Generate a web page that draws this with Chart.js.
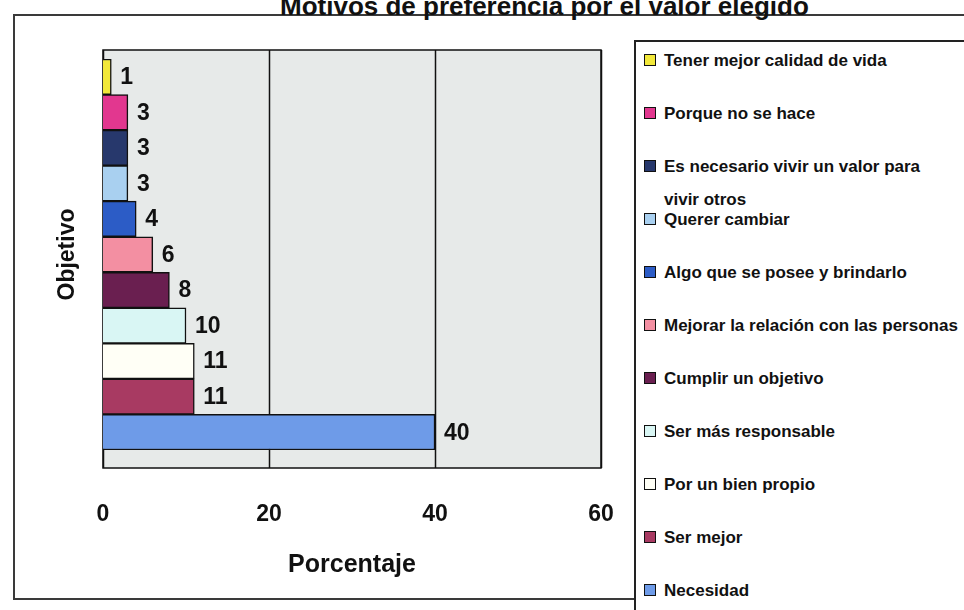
<!DOCTYPE html>
<html>
<head>
<meta charset="utf-8">
<script src="https://cdn.jsdelivr.net/npm/chart.js@4.4.1/dist/chart.umd.min.js"></script>
<style>
  html, body { margin: 0; padding: 0; background: #fff; }
  #wrap { position: relative; width: 964px; height: 610px; overflow: hidden; font-family: "Liberation Sans", Arial, sans-serif; }
  #frame { position: absolute; left: 13px; top: 14px; width: 980px; height: 582px; border: 2px solid #3a3a3a; }
  #title { position: absolute; left: 280px; top: -9px; font: bold 26px "Liberation Sans", Arial, sans-serif; color: #111; white-space: nowrap; }
  #chart { position: absolute; left: 0; top: 0; }
  #legend { position: absolute; left: 634px; top: 40px; width: 360px; height: 600px; border-left: 2px solid #222; border-top: 2px solid #222; background: #fff; }
  .item { position: absolute; left: 8px; width: 330px; }
  .sw { position: absolute; left: 0; top: 10px; width: 10px; height: 10px; border: 1.5px solid #111; }
  .tx { position: absolute; left: 20px; width: 320px; font: bold 17px "Liberation Sans", Arial, sans-serif; line-height: 33px; color: #111; white-space: pre-line; }
</style>
</head>
<body>
<div id="wrap">
  <div id="frame"></div>
  <div id="title">Motivos de preferencia por el valor elegido</div>
  <canvas id="chart" width="964" height="610"></canvas>
  <div id="legend"></div>
</div>
<script>
// ── Veri ──────────────────────────────────────────────
var categories = [
  'Tener mejor calidad de vida',
  'Porque no se hace',
  'Es necesario vivir un valor para\nvivir otros',
  'Querer cambiar',
  'Algo que se posee y brindarlo',
  'Mejorar la relación con las personas',
  'Cumplir un objetivo',
  'Ser más responsable',
  'Por un bien propio',
  'Ser mejor',
  'Necesidad'
];
var values = [1, 3, 3, 3, 4, 6, 8, 10, 11, 11, 40];
var barColors = ['#f2e83a', '#e2378f', '#27386c', '#a9d0f0', '#2c5cc6', '#f38fa2',
                 '#6a1f50', '#d9f6f4', '#fffff6', '#a83a62', '#6e9be8'];
var xTicks = [0, 20, 40, 60];

// ── Lejant (HTML) ─────────────────────────────────────
var leg = document.getElementById('legend');
categories.forEach(function(name, i) {
  var it = document.createElement('div');
  it.className = 'item';
  it.style.top = (58 + i * 53 - 40 - 16.5) + 'px';
  it.innerHTML = '<div class="sw" style="background:' + barColors[i] + '"></div><div class="tx"></div>';
  it.querySelector('.tx').textContent = name;
  leg.appendChild(it);
});

// ── Çizim alanı arka planı + çerçeve + değer etiketleri ─
var plotFrame = {
  id: 'plotFrame',
  beforeDatasetsDraw: function(c) {
    var a = c.chartArea, ctx = c.ctx, x = c.scales.x;
    var top = a.top - 9, bot = a.bottom + 18;
    ctx.save();
    ctx.fillStyle = '#e7eae9';
    ctx.fillRect(a.left, top, a.right - a.left, bot - top);
    ctx.strokeStyle = '#111';
    ctx.lineWidth = 1.5;
    xTicks.forEach(function(v) {
      var px = Math.round(x.getPixelForValue(v)) + 0.5;
      ctx.beginPath(); ctx.moveTo(px, top); ctx.lineTo(px, bot); ctx.stroke();
    });
    ctx.strokeRect(a.left, top, a.right - a.left, bot - top);
    ctx.restore();
  },
  afterDatasetsDraw: function(c) {
    var ctx = c.ctx, meta = c.getDatasetMeta(0);
    ctx.save();
    ctx.font = 'bold 23px "Liberation Sans", Arial, sans-serif';
    ctx.fillStyle = '#111';
    ctx.textBaseline = 'middle';
    meta.data.forEach(function(bar, i) {
      ctx.fillText(values[i], bar.x + 9, bar.y + 1);
    });
    ctx.restore();
  }
};

new Chart(document.getElementById('chart'), {
  type: 'bar',
  data: {
    labels: categories,
    datasets: [{
      data: values,
      backgroundColor: barColors,
      borderColor: '#111',
      borderWidth: 1.5,
      barPercentage: 1,
      categoryPercentage: 1
    }]
  },
  options: {
    indexAxis: 'y',
    responsive: false,
    animation: false,
    layout: { padding: { left: 50, top: 59, right: 363, bottom: 26 } },
    plugins: { legend: { display: false }, tooltip: { enabled: false } },
    scales: {
      x: {
        min: 0, max: 60,
        afterBuildTicks: function(s) { s.ticks = xTicks.map(function(v) { return { value: v }; }); },
        afterFit: function(s) { s.height = 134; },
        ticks: { color: '#111', padding: 43, font: { size: 23, weight: 'bold', family: '"Liberation Sans", Arial, sans-serif' } },
        grid: { display: false },
        border: { display: false },
        title: { display: true, text: 'Porcentaje', color: '#111', padding: 4,
                 font: { size: 25, weight: 'bold', family: '"Liberation Sans", Arial, sans-serif' } }
      },
      y: {
        afterFit: function(s) { s.width = 53; },
        ticks: { display: false },
        grid: { display: false },
        border: { display: false },
        title: { display: true, text: 'Objetivo', color: '#111', padding: 4,
                 font: { size: 23, weight: 'bold', family: '"Liberation Sans", Arial, sans-serif' } }
      }
    }
  },
  plugins: [plotFrame]
});
</script>
</body>
</html>
